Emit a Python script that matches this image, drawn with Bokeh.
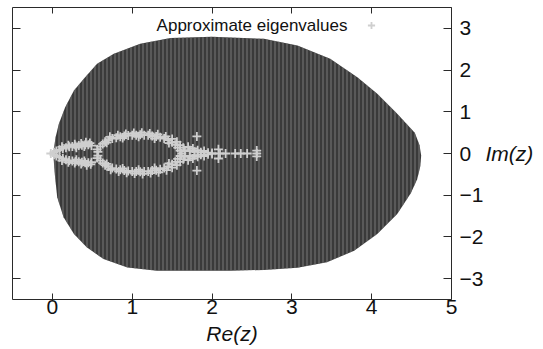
from bokeh.plotting import figure
from bokeh.models import (LinearAxis, FixedTicker, Range1d, Label, Legend, LegendItem,
                          CustomLabelingPolicy)
from bokeh.embed import file_html
from bokeh.resources import INLINE

# ---- data ----
x_ticks = [0, 1, 2, 3, 4, 5]
y_ticks = [-3, -2, -1, 0, 1, 2, 3]

# outline of the shaded region (Re, Im)
region_re = [0.01, 0.04, 0.08, 0.16, 0.27, 0.41, 0.56, 0.77, 1.10, 1.48, 2.00, 2.65,
             3.07, 3.48, 3.82, 4.07, 4.32, 4.54, 4.60, 4.62, 4.61, 4.57, 4.49, 4.32, 4.07, 3.78,
             3.44, 3.07, 2.65, 2.23, 1.31, 0.94, 0.64, 0.43, 0.27, 0.14, 0.06, 0.03]
region_im = [0.00, 0.39, 0.71, 1.11, 1.51, 1.83, 2.15, 2.39, 2.63, 2.77, 2.80, 2.75,
             2.59, 2.27, 1.83, 1.43, 0.95, 0.50, 0.20, -0.05, -0.30, -0.62, -0.95, -1.45, -1.93, -2.33,
             -2.61, -2.74, -2.79, -2.81, -2.81, -2.73, -2.53, -2.25, -1.93, -1.53, -1.05, -0.49]

# approximate eigenvalues (Re, Im)
eig_re = [
    -0.02, 0.02, 0.05, 0.09, 0.13, 0.17, 0.21, 0.25, 0.29, 0.33, 0.37, 0.41, 0.45, 0.49,
    0.12, 0.20, 0.28, 0.36, 0.42, 0.47, 0.30, 0.40,
    0.02, 0.05, 0.09, 0.13, 0.17, 0.21, 0.25, 0.29, 0.33, 0.37, 0.41, 0.45, 0.49,
    0.12, 0.20, 0.28, 0.36, 0.43, 0.48, 0.30, 0.40,
    0.56, 0.57, 0.56, 0.57,
    0.60, 0.63, 0.66, 0.70, 0.75, 0.80, 0.85, 0.90, 0.95, 1.00, 1.05, 1.10, 1.15, 1.20,
    1.25, 1.30, 1.35, 1.40, 1.45, 1.50, 1.54, 1.57, 1.60, 1.62,
    0.72, 0.82, 0.92, 1.02, 1.12, 1.22, 1.32, 1.42, 1.50, 0.68, 0.88, 1.08, 1.28, 1.46,
    0.60, 0.63, 0.66, 0.70, 0.75, 0.80, 0.85, 0.90, 0.95, 1.00, 1.05, 1.10, 1.15, 1.20,
    1.25, 1.30, 1.35, 1.40, 1.45, 1.50, 1.54, 1.57, 1.60,
    0.73, 0.83, 0.93, 1.03, 1.13, 1.23, 1.33, 1.43, 1.50, 0.68, 0.88, 1.08, 1.28, 1.46,
    1.56, 1.60, 1.64, 1.66, 1.70, 1.72, 1.76, 1.78, 1.82, 1.86, 1.90, 1.95, 2.00,
    1.56, 1.60, 1.64, 1.66, 1.70, 1.72, 1.76, 1.78, 1.82, 1.86, 1.90, 1.95, 2.00,
    1.81, 1.81, 2.08, 2.08, 2.10, 2.17, 2.29, 2.36, 2.44, 2.56, 2.56, 2.56,
]
eig_im = [
    0.00, 0.03, 0.06, 0.09, 0.12, 0.14, 0.16, 0.17, 0.18, 0.19, 0.20, 0.21, 0.21, 0.19,
    0.16, 0.20, 0.22, 0.24, 0.27, 0.25, 0.14, 0.17,
    -0.03, -0.06, -0.09, -0.12, -0.15, -0.17, -0.18, -0.19, -0.20, -0.21, -0.22, -0.22, -0.21,
    -0.17, -0.21, -0.23, -0.25, -0.28, -0.26, -0.15, -0.18,
    0.10, 0.04, -0.11, -0.05,
    0.17, 0.23, 0.28, 0.32, 0.36, 0.38, 0.40, 0.42, 0.43, 0.44, 0.44, 0.45, 0.44, 0.44,
    0.42, 0.41, 0.39, 0.36, 0.32, 0.27, 0.21, 0.14, 0.07, 0.00,
    0.40, 0.44, 0.47, 0.49, 0.50, 0.48, 0.46, 0.41, 0.35, 0.26, 0.37, 0.40, 0.36, 0.25,
    -0.17, -0.23, -0.28, -0.31, -0.35, -0.37, -0.39, -0.41, -0.42, -0.43, -0.43, -0.44, -0.43, -0.43,
    -0.41, -0.40, -0.38, -0.35, -0.31, -0.26, -0.20, -0.13, -0.06,
    -0.39, -0.43, -0.46, -0.48, -0.49, -0.47, -0.45, -0.40, -0.34, -0.25, -0.36, -0.39, -0.35, -0.24,
    0.28, 0.20, 0.14, 0.06, 0.16, 0.08, 0.12, 0.04, 0.08, 0.03, 0.06, 0.02, 0.01,
    -0.28, -0.20, -0.14, -0.06, -0.16, -0.08, -0.12, -0.04, -0.08, -0.03, -0.06, -0.02, -0.01,
    0.41, -0.41, 0.10, -0.12, 0.00, 0.00, 0.00, 0.00, 0.00, 0.07, 0.00, -0.07,
]

legend_text = "Approximate eigenvalues"
x_label = "Re(z)"
y_label = "Im(z)"

FONT = "Liberation Sans"
AX = "#2a2a2a"
TXT = "#111111"

p = figure(width=543, height=349,
           x_range=Range1d(-0.5, 5), y_range=Range1d(-3.5, 3.5),
           output_backend="svg", toolbar_location=None,
           y_axis_location="right",
           min_border_left=12, min_border_top=7, min_border_right=92, min_border_bottom=50)
p.grid.visible = False
p.outline_line_color = AX
p.outline_line_width = 1
p.background_fill_color = "white"
p.border_fill_color = "white"

# shaded region
p.patch(region_re, region_im, fill_color="#3a3a3a", line_color=None,
        hatch_pattern="|", hatch_color="#787878", hatch_scale=4, hatch_weight=1)

# eigenvalues
eig = p.scatter(eig_re, eig_im, marker="cross", size=9, line_color="#cfcfcf",
                line_width=1.8)

def style_axis(ax, ticks, tick_len):
    ax.ticker = FixedTicker(ticks=ticks)
    ax.major_tick_in = tick_len
    ax.major_tick_out = 0
    ax.minor_tick_in = 0
    ax.minor_tick_out = 0
    ax.major_tick_line_color = AX
    ax.axis_line_color = None
    ax.major_label_text_font = FONT
    ax.major_label_text_font_size = "21px"
    ax.major_label_text_color = TXT
    ax.axis_label_text_font = FONT
    ax.axis_label_text_font_size = "21px"
    ax.axis_label_text_font_style = "italic"
    ax.axis_label_text_color = TXT

# bottom axis
xa = p.xaxis[0]
style_axis(xa, x_ticks, 6)
xa.major_label_standoff = 0
xa.axis_label = x_label
xa.axis_label_standoff = 5

# right axis
ya = p.yaxis[0]
style_axis(ya, y_ticks, 8)
ya.major_label_standoff = 8
ya.axis_label = y_label
ya.axis_label_orientation = "horizontal"
ya.axis_label_standoff = -1

# left and top tick-only axes (no labels drawn)
la = LinearAxis()
style_axis(la, y_ticks, 8)
la.major_label_text_font_size = "1px"
la.major_label_standoff = 0
la.major_label_policy = CustomLabelingPolicy(code="return new Set()")
p.add_layout(la, "left")

ta = LinearAxis()
style_axis(ta, x_ticks, 6)
ta.major_label_text_font_size = "1px"
ta.major_label_standoff = 0
ta.major_label_policy = CustomLabelingPolicy(code="return new Set()")
p.add_layout(ta, "above")

# legend: text then sample
p.add_layout(Label(x=335, y=274, x_units="screen", y_units="screen", text=legend_text,
                   text_align="right", text_baseline="middle", text_font=FONT,
                   text_font_size="17px", text_color=TXT))

leg = Legend(items=[LegendItem(label="", renderers=[eig])],
             location=(350, 265), padding=0, margin=0, spacing=0,
             glyph_width=18, glyph_height=18, label_width=0, label_height=18,
             label_standoff=0, label_text_font_size="1px",
             border_line_color=None, background_fill_alpha=0)
p.add_layout(leg, "center")

open("out.html", "w").write(file_html(p, INLINE))
